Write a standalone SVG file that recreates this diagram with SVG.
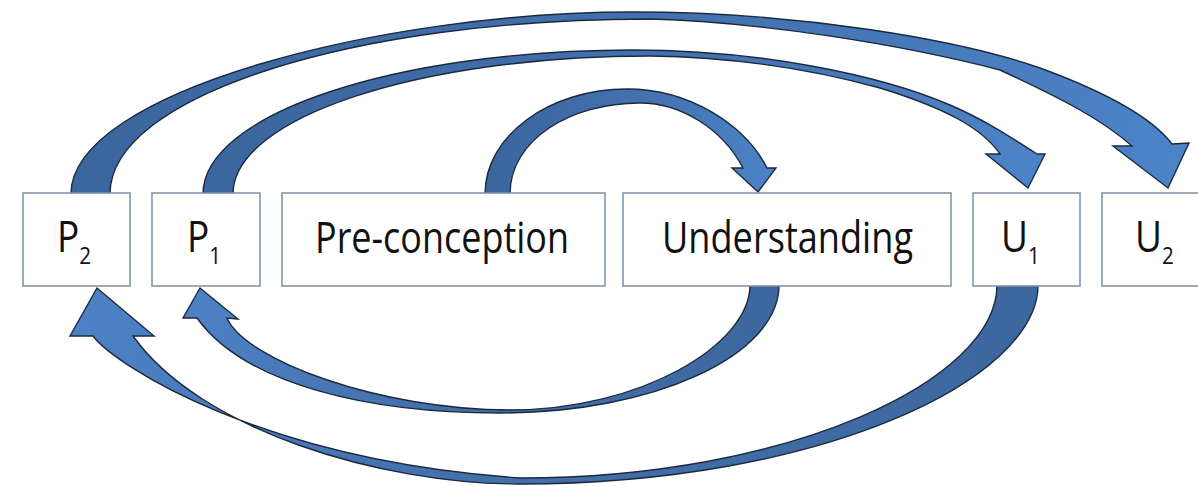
<svg xmlns="http://www.w3.org/2000/svg" width="1198" height="486" viewBox="0 0 1198 486">
  <defs>
    <linearGradient id="gTop" x1="0" y1="0" x2="1" y2="0">
      <stop offset="0" stop-color="#3b659d"/>
      <stop offset="0.6" stop-color="#4473b0"/>
      <stop offset="1" stop-color="#4c84c8"/>
    </linearGradient>
    <linearGradient id="gBot" x1="1" y1="0" x2="0" y2="0">
      <stop offset="0" stop-color="#3d679f"/>
      <stop offset="0.6" stop-color="#4470ab"/>
      <stop offset="1" stop-color="#4c82c6"/>
    </linearGradient>
    <style>
      .arrTop { fill: url(#gTop); stroke: #1c2a3f; stroke-width: 1.4; stroke-linejoin: miter; }
      .arrBot { fill: url(#gBot); stroke: #1c2a3f; stroke-width: 1.4; stroke-linejoin: miter; }
      .box { fill: #ffffff; stroke: #7d8fa3; stroke-width: 1.5; }
      .lbl { font-family: "Open Sans", "Noto Sans", "Liberation Sans", sans-serif; font-size: 43px; fill: #111111; }
      .sub { font-size: 24px; }
    </style>
  </defs>

  <rect width="1198" height="486" fill="#ffffff"/>

  <g id="connectors">
    <!-- P2 -> U2 (outer top arc) -->
    <path class="arrTop" d="M71,194 C71,92 381,12 633,12 C800,12 960,40 1040,68 C1100,90 1150,115 1172,144 L1189,143 L1168,188 L1113,146 L1132,146 C1100,118 1060,98 1000,70 C900,44 760,22 650,19 C353,19 110,96 110,194 Z"/>
    <!-- P1 -> U1 (inner top arc) -->
    <path class="arrTop" d="M203,194 C203,114 396,50 633,50 C760,50 880,75 950,105 C985,120 1012,138 1037,154 L1045,154 L1028,188 L986,154 L1000,154 C982,128 945,108 880,88 C800,66 720,57 650,56 C421,56 233,117 233,194 Z"/>
    <!-- Pre-conception -> Understanding -->
    <path class="arrTop" d="M485,194 C485,136 549,89 627,89 C690,89 745,125 767,168 L776,168 L758,192 L732,168 L743,168 C722,128 680,103 640,103 C570,103 510,140 510,194 Z"/>
    <!-- Understanding -> P1 (inner bottom arc) -->
    <path class="arrBot" d="M779,285 C779,356 653,413 500,413 C370,413 245,385 197,318 L183,318 L200,288 L238,319 L227,318 C245,360 380,410 510,410 C640,410 750,345 750,285 Z"/>
    <!-- U1 -> P2 (outer bottom arc) -->
    <path class="arrBot" d="M1038,285 C1038,380 820,484 520,484 C380,484 200,430 133,336 L154,336 L97,288 L70,336 L93,336 C115,365 260,460 520,478 C790,478 997,380 997,285 Z"/>
  </g>

  <g id="node-p2">
    <rect class="box" x="23" y="193" width="107" height="93"/>
    <text class="lbl" transform="translate(57,252) scale(0.86,1)">P<tspan class="sub" dy="12">2</tspan></text>
  </g>
  <g id="node-p1">
    <rect class="box" x="152" y="193" width="108" height="93"/>
    <text class="lbl" transform="translate(187,252) scale(0.86,1)">P<tspan class="sub" dy="12">1</tspan></text>
  </g>
  <g id="node-preconception">
    <rect class="box" x="282" y="193" width="323" height="93"/>
    <text class="lbl" x="315" y="253" textLength="254" lengthAdjust="spacingAndGlyphs">Pre-conception</text>
  </g>
  <g id="node-understanding">
    <rect class="box" x="623" y="193" width="328" height="93"/>
    <text class="lbl" x="662" y="253" textLength="251" lengthAdjust="spacingAndGlyphs">Understanding</text>
  </g>
  <g id="node-u1">
    <rect class="box" x="973" y="193" width="107" height="93"/>
    <text class="lbl" transform="translate(1001,252) scale(0.86,1)">U<tspan class="sub" dy="12">1</tspan></text>
  </g>
  <g id="node-u2">
    <rect class="box" x="1102" y="193" width="110" height="93"/>
    <text class="lbl" transform="translate(1135,252) scale(0.86,1)">U<tspan class="sub" dy="12">2</tspan></text>
  </g>
</svg>
